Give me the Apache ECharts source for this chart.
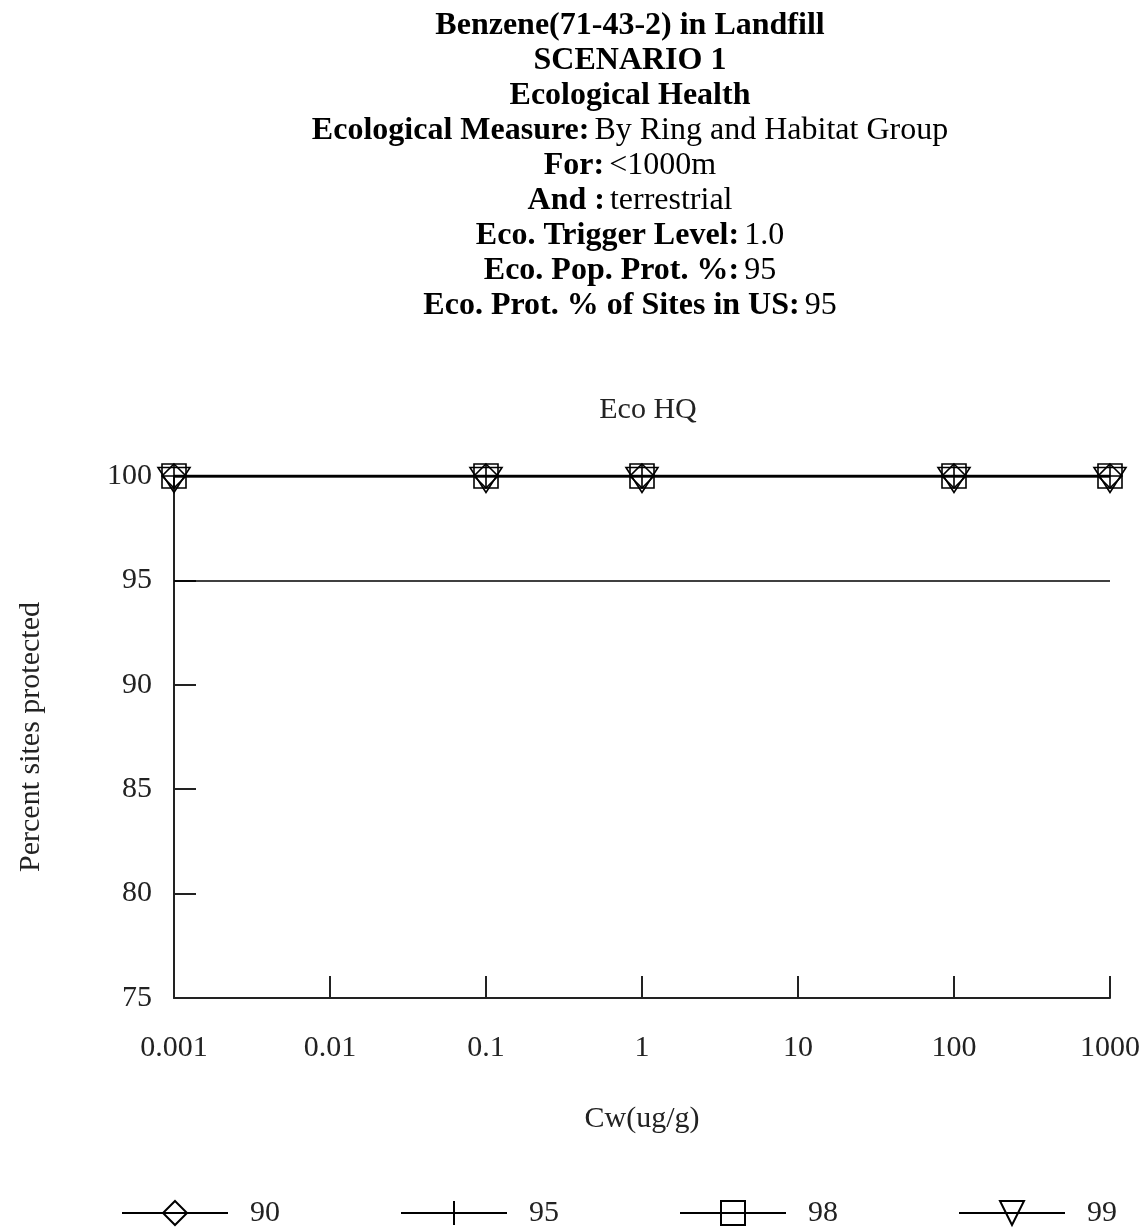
<!DOCTYPE html>
<html>
<head>
<meta charset="utf-8">
<script src="https://cdn.jsdelivr.net/npm/echarts@6/dist/echarts.min.js"></script>
<style>
  html, body { margin: 0; padding: 0; background: #fff; }
  #chart { width: 1147px; height: 1230px; }
</style>
</head>
<body>
<div id="chart"></div>
<script>
// values
var concentrations = [0.001, 0.1, 1, 100, 1000]
var seriesNames = ['90', '95', '98', '99']
var pct90 = [100, 100, 100, 100, 100]
var pct95 = [100, 100, 100, 100, 100]
var pct98 = [100, 100, 100, 100, 100]
var pct99 = [100, 100, 100, 100, 100]
var protLevel = 95
var xTicks = ['0.001', '0.01', '0.1', '1', '10', '100', '1000']

var titleLines = [
  '{b|Benzene(71-43-2) in Landfill}',
  '{b|SCENARIO 1}',
  '{b|Ecological Health}',
  '{b|Ecological Measure:} {n|By Ring and Habitat Group}',
  '{b|For:} {n|<1000m}',
  '{b|And :} {n|terrestrial}',
  '{b|Eco. Trigger Level:} {n|1.0}',
  '{b|Eco. Pop. Prot. %:} {n|95}',
  '{b|Eco. Prot. % of Sites in US:} {n|95}'
]

var FONT = 'Liberation Serif'
var ink = '#000'

function pairs (vals) {
  return concentrations.map(function (c, i) { return [c, vals[i]] })
}

var markerStyle = { color: 'none', borderColor: ink, borderWidth: 1.6 }
var lineStyle = { color: ink, width: 2.5 }

function mkSeries (name, vals, symbol, size, offset) {
  return {
    name: name,
    type: 'line',
    data: pairs(vals),
    symbol: symbol,
    symbolSize: size,
    symbolOffset: offset || [0, 0],
    showAllSymbol: true,
    itemStyle: markerStyle,
    lineStyle: lineStyle,
    z: 3
  }
}

var chart = echarts.init(document.getElementById('chart'))
var option = {
  animation: false,
  backgroundColor: '#fff',
  title: [
    {
      text: titleLines.join('\n'),
      left: 625,
      top: 3,
      textAlign: 'center',
      textStyle: {
        rich: {
          b: { fontFamily: FONT, fontWeight: 'bold', fontSize: 32, lineHeight: 35, color: ink },
          n: { fontFamily: FONT, fontWeight: 'normal', fontSize: 32, lineHeight: 35, color: ink }
        }
      }
    },
    {
      text: 'Eco HQ',
      left: 643,
      top: 390,
      textAlign: 'center',
      textStyle: { fontFamily: FONT, fontWeight: 'normal', fontSize: 30, color: '#222' }
    }
  ],
  legend: {
    data: seriesNames,
    left: 116,
    top: 1193,
    itemWidth: 106,
    itemHeight: 30,
    itemGap: 120,
    textStyle: { fontFamily: FONT, fontSize: 30, color: '#222', padding: [0, 0, 0, 17] }
  },
  grid: { left: 174, right: 37, top: 476, bottom: 232 },
  xAxis: {
    type: 'log',
    logBase: 10,
    min: 0.001,
    max: 1000,
    name: 'Cw(ug/g)',
    nameLocation: 'middle',
    nameGap: 106,
    nameTextStyle: { fontFamily: FONT, fontSize: 30, color: '#222' },
    axisLine: { lineStyle: { color: '#222', width: 2 } },
    axisTick: { inside: true, length: 22, lineStyle: { color: '#222', width: 2 } },
    axisLabel: {
      margin: 35,
      fontFamily: FONT,
      fontSize: 30,
      color: '#222',
      formatter: function (v) {
        var k = Math.round(Math.log10(v)) + 3
        return xTicks[k] || ''
      }
    },
    splitLine: { show: false }
  },
  yAxis: {
    type: 'value',
    min: 75,
    max: 100,
    interval: 5,
    name: 'Percent sites protected',
    nameLocation: 'middle',
    nameRotate: 90,
    nameGap: 128,
    nameTextStyle: { fontFamily: FONT, fontSize: 30, color: '#222' },
    axisLine: { show: true, lineStyle: { color: '#222', width: 2 } },
    axisTick: { show: true, inside: true, length: 22, lineStyle: { color: '#222', width: 2 } },
    axisLabel: { margin: 22, fontFamily: FONT, fontSize: 30, color: '#222' },
    splitLine: { show: false }
  },
  series: [
    mkSeries('90', pct90, 'diamond', 24),
    mkSeries('95', pct95, 'path://M0,-1L0,1M-1,0L1,0', 24),
    mkSeries('98', pct98, 'rect', 24),
    mkSeries('99', pct99, 'path://M0,0L2,0L1,1.6Z', [32, 25], [0, 4]),
    {
      name: 'protection',
      type: 'line',
      data: [],
      markLine: {
        silent: true,
        symbol: 'none',
        label: { show: false },
        lineStyle: { color: ink, width: 1.6, type: 'solid' },
        data: [{ yAxis: protLevel }]
      }
    }
  ]
}
chart.setOption(option)
</script>
</body>
</html>
